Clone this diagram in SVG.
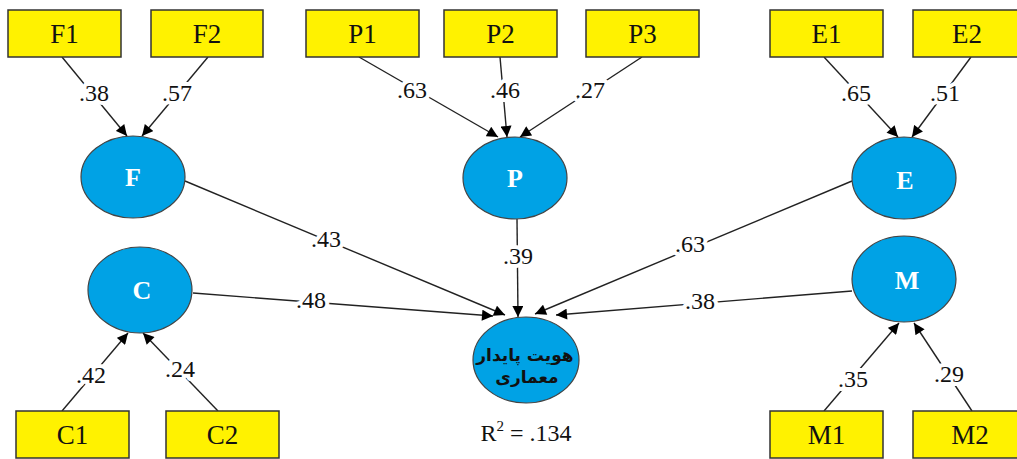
<svg xmlns="http://www.w3.org/2000/svg" width="1017" height="459" viewBox="0 0 1017 459">
<defs>
<marker id="ah" viewBox="0 0 10 10" refX="10" refY="5" markerWidth="12" markerHeight="11" markerUnits="userSpaceOnUse" orient="auto">
<path d="M0,0 L10,5 L0,10 z" fill="#000"/>
</marker>
<style>
.box{fill:#FFF200;stroke:#333;stroke-width:1.5}
.btxt{font-family:"Liberation Serif",serif;font-size:27px;fill:#111;text-anchor:middle}
.lat{fill:#00A2E5;stroke:#444;stroke-width:1.2}
.ltxt{font-family:"Liberation Serif",serif;font-size:26px;font-weight:bold;fill:#fff;text-anchor:middle}
.edge{stroke:#222;stroke-width:1.4;fill:none;marker-end:url(#ah)}
.lbl{font-family:"Liberation Serif",serif;font-size:24px;fill:#111;text-anchor:middle;stroke:#fff;stroke-width:8px;paint-order:stroke;stroke-linejoin:round}
.fa{font-family:"DejaVu Sans","Noto Sans",sans-serif;font-size:17px;font-weight:bold;fill:#111;text-anchor:middle}
</style>
</defs>
<rect width="1017" height="459" fill="#fff"/>
<g id="connectors">
<line class="edge" x1="62" y1="57" x2="127" y2="136"/>
<line class="edge" x1="208" y1="57" x2="142" y2="136"/>
<line class="edge" x1="359" y1="57" x2="498" y2="137"/>
<line class="edge" x1="500" y1="57" x2="507" y2="137"/>
<line class="edge" x1="642" y1="57" x2="520" y2="137"/>
<line class="edge" x1="824" y1="57" x2="898" y2="137"/>
<line class="edge" x1="971" y1="57" x2="912" y2="137"/>
<line class="edge" x1="62" y1="411" x2="128" y2="333"/>
<line class="edge" x1="218" y1="411" x2="143" y2="333"/>
<line class="edge" x1="824" y1="411" x2="899" y2="323"/>
<line class="edge" x1="972" y1="411" x2="914" y2="323"/>
<line class="edge" x1="185" y1="181" x2="505" y2="315"/>
<line class="edge" x1="193" y1="293" x2="493" y2="316"/>
<line class="edge" x1="517" y1="219" x2="518" y2="317"/>
<line class="edge" x1="852" y1="181" x2="535" y2="314"/>
<line class="edge" x1="852" y1="291" x2="556" y2="315"/>
<text class="lbl" x="94" y="101">.38</text>
<text class="lbl" x="177" y="101">.57</text>
<text class="lbl" x="412" y="98">.63</text>
<text class="lbl" x="505" y="98">.46</text>
<text class="lbl" x="590" y="98">.27</text>
<text class="lbl" x="856" y="101">.65</text>
<text class="lbl" x="945" y="101">.51</text>
<text class="lbl" x="91" y="383">.42</text>
<text class="lbl" x="180" y="377">.24</text>
<text class="lbl" x="853" y="387">.35</text>
<text class="lbl" x="949" y="382">.29</text>
<text class="lbl" x="326" y="247">.43</text>
<text class="lbl" x="311" y="308">.48</text>
<text class="lbl" x="518" y="264">.39</text>
<text class="lbl" x="690" y="252">.63</text>
<text class="lbl" x="700" y="309">.38</text>
</g>
<g id="F1"><rect class="box" x="8" y="10" width="113" height="47"/><text class="btxt" x="64.5" y="43">F1</text></g>
<g id="F2"><rect class="box" x="151" y="10" width="112" height="47"/><text class="btxt" x="207" y="43">F2</text></g>
<g id="P1"><rect class="box" x="306" y="10" width="113" height="47"/><text class="btxt" x="362.5" y="43">P1</text></g>
<g id="P2"><rect class="box" x="444" y="10" width="113" height="47"/><text class="btxt" x="500.5" y="43">P2</text></g>
<g id="P3"><rect class="box" x="586" y="10" width="113" height="47"/><text class="btxt" x="642.5" y="43">P3</text></g>
<g id="E1"><rect class="box" x="770" y="10" width="113" height="47"/><text class="btxt" x="826.5" y="43">E1</text></g>
<g id="E2"><rect class="box" x="913" y="10" width="106" height="47"/><text class="btxt" x="967" y="43">E2</text></g>
<g id="C1"><rect class="box" x="16" y="411" width="113" height="47"/><text class="btxt" x="72.5" y="444">C1</text></g>
<g id="C2"><rect class="box" x="166" y="411" width="113" height="47"/><text class="btxt" x="222.5" y="444">C2</text></g>
<g id="M1"><rect class="box" x="770" y="411" width="113" height="47"/><text class="btxt" x="826.5" y="444">M1</text></g>
<g id="M2"><rect class="box" x="913" y="411" width="106" height="47"/><text class="btxt" x="970" y="444">M2</text></g>
<g id="F"><ellipse class="lat" cx="133" cy="177" rx="52" ry="41"/><text class="ltxt" x="133" y="186">F</text></g>
<g id="C"><ellipse class="lat" cx="140" cy="290" rx="52" ry="43"/><text class="ltxt" x="142" y="299">C</text></g>
<g id="P"><ellipse class="lat" cx="515" cy="178" rx="52" ry="41"/><text class="ltxt" x="515" y="187">P</text></g>
<g id="E"><ellipse class="lat" cx="904" cy="178" rx="52" ry="41"/><text class="ltxt" x="905" y="189">E</text></g>
<g id="M"><ellipse class="lat" cx="904" cy="279" rx="52" ry="43"/><text class="ltxt" x="907" y="289">M</text></g>
<g id="Identity"><ellipse class="lat" cx="526" cy="360" rx="53" ry="43"/>
<text class="fa" x="525" y="361" direction="rtl">هویت پایدار</text>
<text class="fa" x="527" y="383" direction="rtl">معماری</text></g>
<g id="R2"><text font-family="'Liberation Serif',serif" font-size="24" fill="#111" text-anchor="middle" x="526" y="441">R<tspan font-size="15" dy="-10">2</tspan><tspan dy="10"> = .134</tspan></text></g>
</svg>
